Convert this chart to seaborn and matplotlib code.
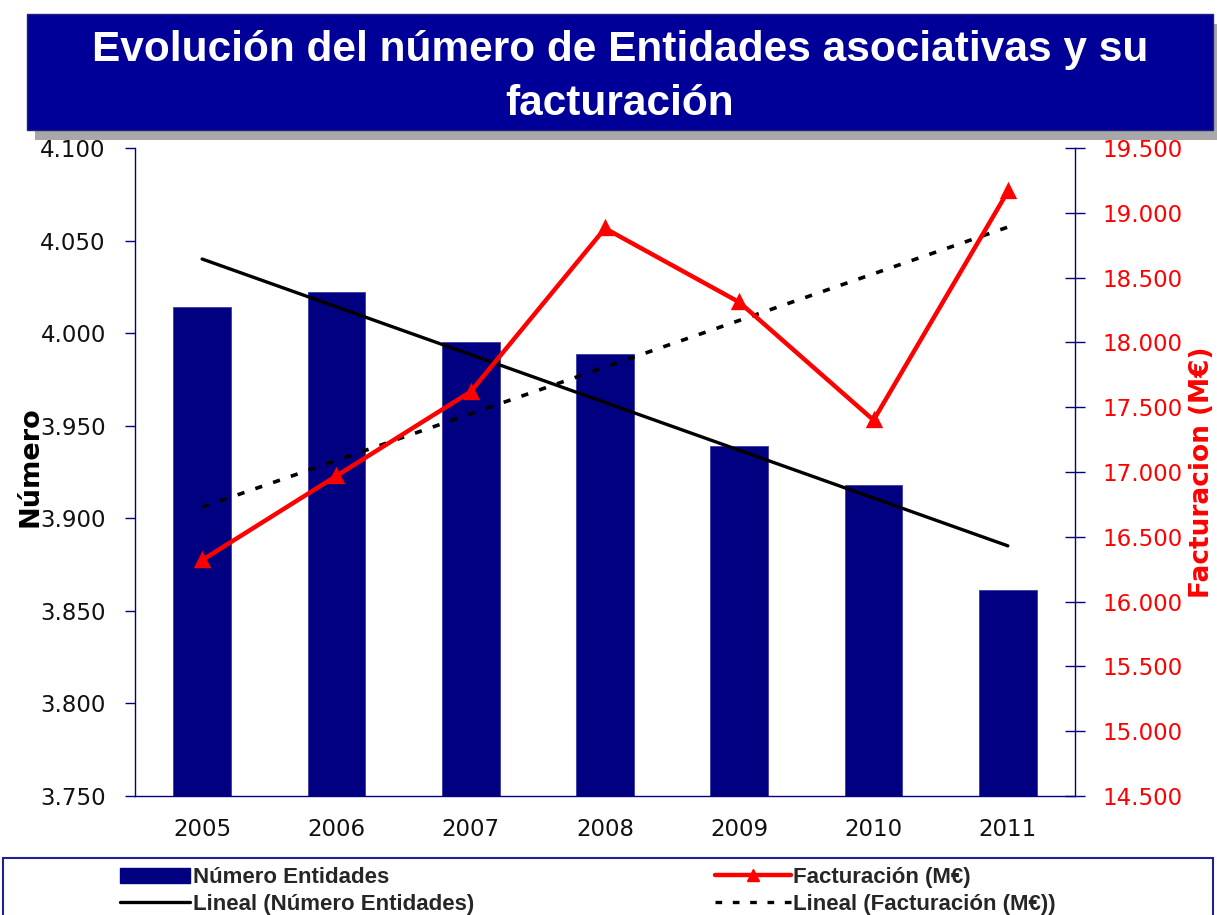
import numpy as np
import matplotlib as mpl
mpl.use('Agg')

import matplotlib.pyplot as plt
import matplotlib.patches as mpatches
from matplotlib.lines import Line2D
from matplotlib.ticker import FuncFormatter, MultipleLocator
import seaborn as sns
import pandas as pd

# Data
years = ['2005', '2006', '2007', '2008', '2009', '2010', '2011']
numero_entidades = [4014, 4022, 3995, 3989, 3939, 3918, 3861]
facturacion = [16320, 16970, 17620, 18880, 18310, 17400, 19165]

NAVY = '#000080'
TITLE_BLUE = '#000099'
RED = '#ff0000'

df = pd.DataFrame({'year': years, 'numero': numero_entidades, 'fact': facturacion,
                   'idx': np.arange(len(years))})

sns.set_style('white')
plt.rcParams['font.family'] = ['DejaVu Sans']

fig = plt.figure(figsize=(12.17, 9.15), dpi=100)
ax = fig.add_axes([135 / 1217, 1 - 796 / 915, 940 / 1217, 648 / 915])
ax2 = ax.twinx()

# bars + linear trend on the left axis
sns.barplot(data=df, x='year', y='numero', color=NAVY, saturation=1, width=0.43,
            edgecolor='#3a3aa8', linewidth=0.6, ax=ax)
sns.regplot(data=df, x='idx', y='numero', scatter=False, ci=None, truncate=True,
            color='black', line_kws={'linewidth': 2.4, 'zorder': 5}, ax=ax)

# facturacion + linear trend on the right axis
sns.regplot(data=df, x='idx', y='fact', scatter=False, ci=None, truncate=True,
            color='black', line_kws={'linewidth': 2.6, 'linestyle': (0, (2, 3.2))}, ax=ax2)
sns.pointplot(data=df, x='year', y='fact', color=RED, markers='^', linestyles='-',
              errorbar=None, linewidth=3.2, markersize=9, ax=ax2)

ax.set_xlim(-0.5, 6.5)
ax.set_ylim(3750, 4100)
ax2.set_ylim(14500, 19500)
ax.yaxis.set_major_locator(MultipleLocator(50))
ax2.yaxis.set_major_locator(MultipleLocator(500))
fmt = FuncFormatter(lambda v, p: f'{int(round(v)):,}'.replace(',', '.'))
ax.yaxis.set_major_formatter(fmt)
ax2.yaxis.set_major_formatter(fmt)

ax.set_xlabel('')
ax.set_ylabel('')
ax2.set_xlabel('')
ax2.set_ylabel('')

for a in (ax, ax2):
    for s in a.spines.values():
        s.set_visible(False)
ax.spines['left'].set_visible(True)
ax.spines['bottom'].set_visible(True)
ax2.spines['right'].set_visible(True)
for s in (ax.spines['left'], ax.spines['bottom'], ax2.spines['right']):
    s.set_color(NAVY)
    s.set_linewidth(1.0)

ax.set_xticks(np.arange(7))
ax.set_xticklabels(years)
ax.set_xticks(np.arange(-0.5, 7, 1), minor=True)
ax.tick_params(axis='x', which='major', length=0, pad=16, labelsize=16.5, labelcolor='#111111')
ax.tick_params(axis='x', which='minor', length=8, direction='out', color=NAVY, width=1)
ax.tick_params(axis='y', which='major', left=True, length=7, direction='out', color=NAVY,
               width=1, labelsize=16.5, pad=14, labelcolor='#111111')
ax2.tick_params(axis='y', which='major', right=True, length=15, direction='inout', color=NAVY,
                width=1, labelsize=16.5, pad=12, labelcolor=RED)
ax2.tick_params(axis='x', which='both', length=0)

# axis titles
fig.text(30 / 1217, 1 - 467 / 915, 'Número', rotation=90, ha='center', va='center',
         fontsize=19.5, fontweight='bold', color='black')
fig.text(1202 / 1217, 1 - 472 / 915, 'Facturacion (M€)', rotation=90, ha='center', va='center',
         fontsize=19, fontweight='bold', color=RED)

# title banner with shadow
fig.patches.append(mpatches.Rectangle((35 / 1217, 1 - 140 / 915), 1186 / 1217, 116 / 915,
                                      transform=fig.transFigure, facecolor='#a8a8a8',
                                      edgecolor='none', zorder=0))
fig.patches.append(mpatches.Rectangle((27 / 1217, 1 - 130 / 915), 1186 / 1217, 116 / 915,
                                      transform=fig.transFigure, facecolor=TITLE_BLUE,
                                      edgecolor='#202080', linewidth=1, zorder=1))
fig.text(620 / 1217, 1 - 77 / 915, 'Evolución del número de Entidades asociativas y su\nfacturación',
         ha='center', va='center', color='white', fontsize=30.5, fontweight='bold',
         family=['Liberation Sans', 'DejaVu Sans'], linespacing=1.42, zorder=2)

# legend box
fig.patches.append(mpatches.Rectangle((3 / 1217, -0.01), 1210 / 1217, 1 - 858 / 915 + 0.01,
                                      transform=fig.transFigure, facecolor='white',
                                      edgecolor='#202090', linewidth=1.5, zorder=0))
h_bar = mpatches.Patch(facecolor=NAVY, edgecolor=NAVY)
h_lin1 = Line2D([], [], color='black', linewidth=2.4)
h_fact = Line2D([], [], color=RED, linewidth=3.2, marker='^', markersize=9)
h_lin2 = Line2D([], [], color='black', linewidth=2.4, linestyle=(0, (2, 3.2)))
leg_font = {'family': ['Liberation Sans', 'DejaVu Sans'], 'weight': 'bold', 'size': 16}
leg1 = fig.legend([h_bar, h_lin1], ['Número Entidades', 'Lineal (Número Entidades)'],
                  loc='center left', bbox_to_anchor=(120 / 1217, 1 - 891 / 915), frameon=False,
                  prop=leg_font, handlelength=3.15, handletextpad=0.12, labelspacing=0.25,
                  borderpad=0, borderaxespad=0)
leg2 = fig.legend([h_fact, h_lin2], ['Facturación (M€)', 'Lineal (Facturación (M€))'],
                  loc='center left', bbox_to_anchor=(715 / 1217, 1 - 891 / 915), frameon=False,
                  prop=leg_font, handlelength=3.4, handletextpad=0.12, labelspacing=0.25,
                  borderpad=0, borderaxespad=0)

fig.savefig('out.png', dpi=100)
plt.close(fig)
